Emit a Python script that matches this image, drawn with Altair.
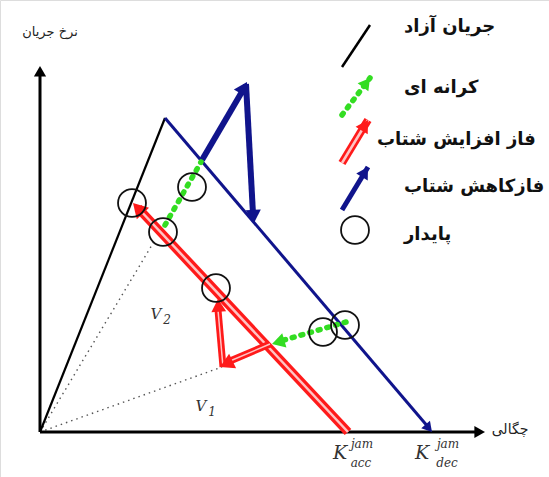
import altair as alt
import numpy as np
import pandas as pd

# Fundamental diagram sketch: density K (x) against flow q (y).
# Coordinates are in diagram units with the origin at the axes corner.

# axes
axis_k1 = [0, 0]
axis_q1 = [0, 0]
axis_k2 = [436, 0]
axis_q2 = [0, 358]

# free-flow branch and deceleration branch
free_k = [0, 125]
free_q = [0, 314]
dec_k = [125, 389]
dec_q = [314, 4]

# acceleration branch (double red line)
acc_k = [308, 98]
acc_q = [0, 224]

# thick deceleration-phase arrows
dec_arrow_k1 = [162, 206]
dec_arrow_q1 = [272, 348]
dec_arrow_k2 = [203, 213]
dec_arrow_q2 = [342, 218]

# thick acceleration-phase arrows
acc_arrow_k1 = [230, 183]
acc_arrow_q1 = [88, 65]
acc_arrow_k2 = [190, 178]
acc_arrow_q2 = [71, 122]

# boundary (dotted green) paths
bnd_k1 = [125, 306]
bnd_q1 = [207, 110]
bnd_k2 = [161, 244]
bnd_q2 = [270, 92]

# rays from the origin bounding V1 / V2
ray_k = [115, 182]
ray_q = [192, 65]

# stable states
stable_k = [92, 123, 152, 176, 283, 305]
stable_q = [229, 200, 245, 144, 100, 107]

# arrowheads: tip position and direction
head_k = [0, 445, 93, 207, 214, 232, 180, 178, 392]
head_q = [366, 0, 229, 350, 209, 88, 65, 133, 0]
head_dk = [0, 1, -215, 44, 8, -75, -48, -4, 267]
head_dq = [1, 0, 229, 76, -138, -22, -23, 66, -314]
head_color = ["#000000", "#000000", "#ff1a1a", "#10148c", "#10148c",
              "#33dd22", "#ff1a1a", "#ff1a1a", "#10148c"]
head_size = [150, 150, 280, 230, 230, 220, 260, 220, 130]

# legend
leg_k1 = [302, 302, 302, 302]
leg_q1 = [365, 317, 269, 222]
leg_k2 = [330, 330, 328, 328]
leg_q2 = [407, 354, 312, 265]
leg_text = ["جریان آزاد", "کرانه ای", "فاز افزایش شتاب", "فازکاهش شتاب", "پایدار"]
leg_text_k = [364, 364, 337, 364, 364]
leg_text_q = [405, 344, 292, 245, 197]
leg_circle_k = [315]
leg_circle_q = [202]

X_DOM = [-40, 509]
Y_DOM = [-45, 432]


def xs(f="k"):
    return alt.X(f"{f}:Q", scale=alt.Scale(domain=X_DOM, nice=False, zero=False), axis=None)


def ys(f="q"):
    return alt.Y(f"{f}:Q", scale=alt.Scale(domain=Y_DOM, nice=False, zero=False), axis=None)


def seg_df(k1, q1, k2, q2):
    return pd.DataFrame({"k": k1, "q": q1, "k2": k2, "q2": q2})


def segs(df, color, width, dash=None, cap="butt"):
    kw = dict(color=color, strokeWidth=width, strokeCap=cap)
    if dash:
        kw["strokeDash"] = dash
    return alt.Chart(df).mark_rule(**kw).encode(
        x=xs(), y=ys(), x2="k2:Q", y2="q2:Q")


# arrowhead centres pulled back from the tips along each direction
hk = np.array(head_k, float)
hq = np.array(head_q, float)
dk = np.array(head_dk, float)
dq = np.array(head_dq, float)
norm = np.hypot(dk, dq)
ang = np.degrees(np.arctan2(dk, dq)) % 360
h = np.sqrt(np.array(head_size, float)) / 2 * np.sqrt(3) / 2
heads = pd.DataFrame({
    "k": hk - dk / norm * h,
    "q": hq - dq / norm * h,
    "ang": ang,
    "col": head_color,
    "size": head_size,
})

layers = []
# dotted rays
layers.append(segs(seg_df([0, 0], [0, 0], ray_k, ray_q), "#555555", 1.4, [1.5, 4]))
# axes
layers.append(segs(seg_df(axis_k1, axis_q1, axis_k2, axis_q2), "#000000", 3))
# free flow
layers.append(segs(seg_df([free_k[0]], [free_q[0]], [free_k[1]], [free_q[1]]), "#000000", 2.2))
# deceleration branch
layers.append(segs(seg_df([dec_k[0]], [dec_q[0]], [dec_k[1]], [dec_q[1]]), "#10148c", 3))
# acceleration branch: red outline with light core
acc_df = seg_df([acc_k[0]], [acc_q[0]], [acc_k[1]], [acc_q[1]])
layers.append(segs(acc_df, "#ff1a1a", 9))
layers.append(segs(acc_df, "#ffc4c4", 2.5))
# thick acceleration-phase arrows
aa = seg_df(acc_arrow_k1, acc_arrow_q1, acc_arrow_k2, acc_arrow_q2)
layers.append(segs(aa, "#ff1a1a", 7))
layers.append(segs(aa, "#ffc4c4", 1.5))
# thick deceleration-phase arrows
layers.append(segs(seg_df(dec_arrow_k1, dec_arrow_q1, dec_arrow_k2, dec_arrow_q2), "#10148c", 6))
# boundary paths
layers.append(segs(seg_df(bnd_k1, bnd_q1, bnd_k2, bnd_q2), "#33dd22", 5.5, [2, 7], "round"))

# legend samples
layers.append(segs(seg_df(leg_k1[:1], leg_q1[:1], leg_k2[:1], leg_q2[:1]), "#000000", 2.5))
layers.append(segs(seg_df(leg_k1[1:2], leg_q1[1:2], leg_k2[1:2], leg_q2[1:2]), "#33dd22", 5.5, [2, 7], "round"))
lr = seg_df(leg_k1[2:3], leg_q1[2:3], leg_k2[2:3], leg_q2[2:3])
layers.append(segs(lr, "#ff1a1a", 8))
layers.append(segs(lr, "#ffc4c4", 2.5))
layers.append(segs(seg_df(leg_k1[3:4], leg_q1[3:4], leg_k2[3:4], leg_q2[3:4]), "#10148c", 5))

# legend arrowheads
lk1 = np.array(leg_k1, float); lq1 = np.array(leg_q1, float)
lk2 = np.array(leg_k2, float); lq2 = np.array(leg_q2, float)
ldk = lk2 - lk1; ldq = lq2 - lq1
ln = np.hypot(ldk, ldq)
lsz = np.array([1, 180, 200, 180], float)
lh = np.sqrt(lsz) / 2 * np.sqrt(3) / 2
leg_heads = pd.DataFrame({
    "k": lk2 - ldk / ln * lh,
    "q": lq2 - ldq / ln * lh,
    "ang": np.degrees(np.arctan2(ldk, ldq)) % 360,
    "col": ["#000000", "#33dd22", "#ff1a1a", "#10148c"],
    "size": lsz,
}).iloc[1:]

all_heads = pd.concat([heads, leg_heads], ignore_index=True)
layers.append(
    alt.Chart(all_heads).mark_point(shape="triangle-up", filled=True, opacity=1, strokeWidth=0).encode(
        x=xs(), y=ys(),
        angle=alt.Angle("ang:Q", scale=None),
        color=alt.Color("col:N", scale=None),
        size=alt.Size("size:Q", scale=None),
    )
)

# stable-state circles
circ = pd.DataFrame({"k": stable_k + leg_circle_k, "q": stable_q + leg_circle_q})
layers.append(
    alt.Chart(circ).mark_point(shape="circle", filled=False, color="#111111", size=780,
                               strokeWidth=1.8, opacity=1).encode(x=xs(), y=ys())
)

# legend labels
leg_df = pd.DataFrame({"k": leg_text_k, "q": leg_text_q, "t": leg_text})
layers.append(
    alt.Chart(leg_df).mark_text(font="DejaVu Sans", fontSize=18, fontWeight="bold",
                                align="left", baseline="middle", color="#111111").encode(
        x=xs(), y=ys(), text="t:N")
)

# axis titles
ax_df = pd.DataFrame({"k": [10, 470], "q": [400, 2], "t": ["نرخ جریان", "چگالی"], "s": [13, 14]})
layers.append(
    alt.Chart(ax_df).mark_text(font="DejaVu Sans", baseline="middle", align="center",
                               color="#222222").encode(
        x=xs(), y=ys(), text="t:N", size=alt.Size("s:Q", scale=None))
)

# region labels and jam densities
sym_k = [116, 161, 300, 382]
sym_q = [118, 26, -21, -21]
sym_t = ["V", "V", "K", "K"]
sym_s = [15, 15, 19, 19]
sub_k = [127, 172, 321, 407]
sub_q = [112, 20, -31, -31]
sub_t = ["2", "1", "acc", "dec"]
sup_k = [322, 408]
sup_q = [-12, -12]
sup_t = ["jam", "jam"]
layers.append(
    alt.Chart(pd.DataFrame({"k": sym_k, "q": sym_q, "t": sym_t, "s": sym_s})).mark_text(
        font="DejaVu Serif", fontStyle="italic", color="#333333",
        align="center", baseline="middle").encode(
        x=xs(), y=ys(), text="t:N", size=alt.Size("s:Q", scale=None))
)
layers.append(
    alt.Chart(pd.DataFrame({"k": sub_k + sup_k, "q": sub_q + sup_q, "t": sub_t + sup_t})).mark_text(
        font="DejaVu Serif", fontStyle="italic", fontSize=12, color="#333333",
        align="center", baseline="middle").encode(x=xs(), y=ys(), text="t:N")
)

chart = alt.layer(*layers).properties(
    width=549, height=477, padding=0, autosize=alt.AutoSizeParams(type="none")
).configure_view(stroke=None).configure(background="white")

chart.save("out.html", embed_options={"renderer": "svg", "actions": False})
